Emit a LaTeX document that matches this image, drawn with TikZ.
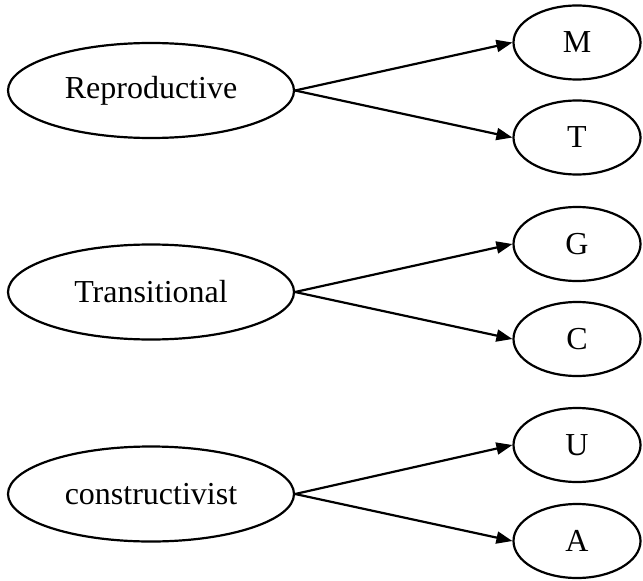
\documentclass[tikz,border=0pt]{standalone}
\usepackage{fontspec}
\setmainfont{Liberation Serif}
\usetikzlibrary{shapes.geometric,arrows.meta}
\begin{document}
\begin{tikzpicture}[x=1bp,y=-1bp,
  big/.style={draw,ellipse,line width=2.2bp,minimum width=286bp,minimum height=95bp,inner sep=0pt,font=\fontsize{32bp}{38bp}\selectfont},
  small/.style={draw,ellipse,line width=2.2bp,minimum width=127bp,minimum height=74bp,inner sep=0pt,font=\fontsize{32bp}{38bp}\selectfont},
  conn/.style={line width=2.2bp,-{Triangle[length=16bp,width=12bp]}}]
\useasboundingbox (0,0) rectangle (643,581);
\node[big] (rep) at (151,90.5) {Reproductive};
\node[big] (tra) at (151,292) {Transitional};
\node[big] (con) at (151,494) {constructivist};
\node[small] (m) at (577,42.5) {M};
\node[small] (t) at (577,137.5) {T};
\node[small] (g) at (577,244) {G};
\node[small] (c) at (577,339) {C};
\node[small] (u) at (577,445) {U};
\node[small] (a) at (577,541) {A};
\draw[conn] (rep.east) -- (m.west);
\draw[conn] (rep.east) -- (t.west);
\draw[conn] (tra.east) -- (g.west);
\draw[conn] (tra.east) -- (c.west);
\draw[conn] (con.east) -- (u.west);
\draw[conn] (con.east) -- (a.west);
\end{tikzpicture}
\end{document}
